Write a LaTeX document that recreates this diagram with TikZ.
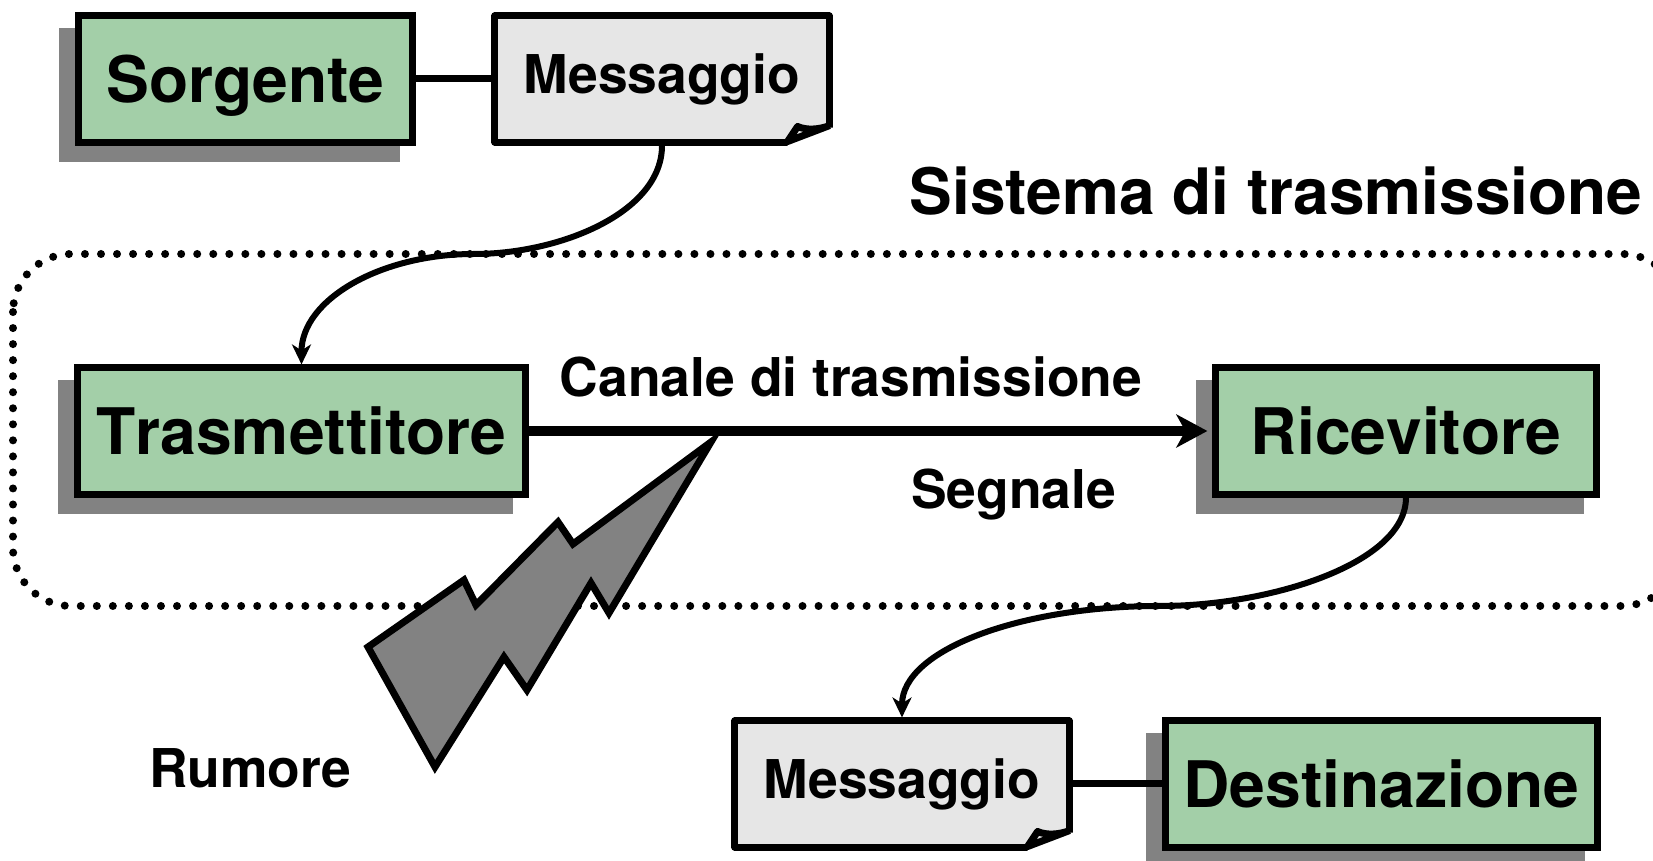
\documentclass[tikz,border=0pt]{standalone}
\usepackage{fontspec}
\setmainfont[Kerning=Off]{TeX Gyre Heros}
\usetikzlibrary{arrows.meta,shadows}
\definecolor{boxgreen}{HTML}{A3CFA8}
\definecolor{shadowgray}{HTML}{828282}
\definecolor{notegray}{HTML}{E6E6E6}
\tikzset{
  block/.style={rectangle, draw, fill=boxgreen, line width=.07cm, inner sep=0pt,
    minimum height=1.26cm, text height=.47cm, text depth=0pt,
    font=\fontsize{18.25}{20}\selectfont\bfseries,
    drop shadow={shadow xshift=-.16cm, shadow yshift=-.16cm, opacity=1,
      fill=shadowgray, draw=shadowgray}},
  note/.style={rectangle, draw, fill=notegray, line width=.07cm, inner sep=0pt,
    line join=round, minimum width=3.34cm, minimum height=1.26cm,
    text height=.38cm, text depth=.1cm,
    font=\fontsize{15.2}{18}\selectfont\bfseries},
  label/.style={anchor=base, font=\fontsize{15.2}{18}\selectfont\bfseries},
  link/.style={line width=.07cm},
  flow/.style={-{Stealth[length=.2cm, width=.19cm, inset=.06cm]}, line width=.06cm}
}
\newcommand{\notefold}[1]{
  \fill[white] ([shift={(-45,-3)}]#1.south east) -- ([shift={(-3,-18)}]#1.south east)
    -- ([shift={(1,-18)}]#1.south east) -- ([shift={(1,1)}]#1.south east)
    -- ([shift={(-45,1)}]#1.south east) -- cycle;
  \draw[link, line join=round] ([shift={(-3,-20)}]#1.south east) -- ([shift={(-45,-4)}]#1.south east)
    -- ([shift={(-35,-19)}]#1.south east)
    .. controls ([shift={(-26,-15)}]#1.south east) and ([shift={(-13,-16)}]#1.south east)
    .. ([shift={(-3,-20)}]#1.south east);
}

\begin{document}
\begin{tikzpicture}[x=.01cm, y=-.01cm]
  \clip (0,0) rectangle (1653,861);
  % transmission system
  \draw[line width=.08cm, line cap=round, dash pattern=on 0pt off .1603cm, rounded corners=.58cm]
    (13,254) rectangle (1680,606);
  \node[label, font=\fontsize{18.2}{20}\selectfont\bfseries] (sistema) at (1276,215) {Sistema di trasmissione};

  \node[block, minimum width=3.34cm]  (sorgente)      at (245.5,79)  {Sorgente};
  \node[note]                         (msgsorg)       at (662,79)    {Messaggio};
  \node[block, minimum width=4.47cm]  (trasmettitore) at (301.5,431) {Trasmettitore};
  \node[block, minimum width=3.8cm]   (ricevitore)    at (1406,431)  {Ricevitore};
  \node[note]                         (msgdest)       at (902,784)   {Messaggio};
  \node[block, minimum width=4.31cm]  (destinazione)  at (1381.5,784) {Destinazione};
  \notefold{msgsorg}
  \notefold{msgdest}

  \coordinate (flexsorg) at (474,254);
  \coordinate (flexdest) at (1160,606);

  \draw[link] (sorgente) -- (msgsorg);
  \draw[link] (msgdest) -- (destinazione);
  \draw[flow] (msgsorg.south) .. controls +(0,67) and (560,254) .. (flexsorg)
    .. controls (380,254) and (301.5,300) .. (trasmettitore.north);
  \draw[flow] (ricevitore.south) .. controls +(0,66) and (1270,606) .. (flexdest)
    .. controls (1020,606) and (902,650) .. (msgdest.north);
  \draw[-{Stealth[length=.31cm, width=.33cm, inset=.09cm]}, line width=.107cm, shorten >=.05cm]
    (trasmettitore) -- (ricevitore);

  % noise bolt
  \draw[fill=shadowgray, line width=.07cm, miter limit=20]
    (711,442) -- (573,544) -- (558,522) -- (476,605) -- (464,580) -- (368,647)
    -- (435,767) -- (504,657) -- (527,690) -- (591,583) -- (609,613) -- cycle;

  \node[label] (canale)  at (851,397)  {Canale di trasmissione};
  \node[label] (segnale) at (1013.5,509) {Segnale};
  \node[label] (rumore)  at (250,788)  {Rumore};
\end{tikzpicture}
\end{document}
